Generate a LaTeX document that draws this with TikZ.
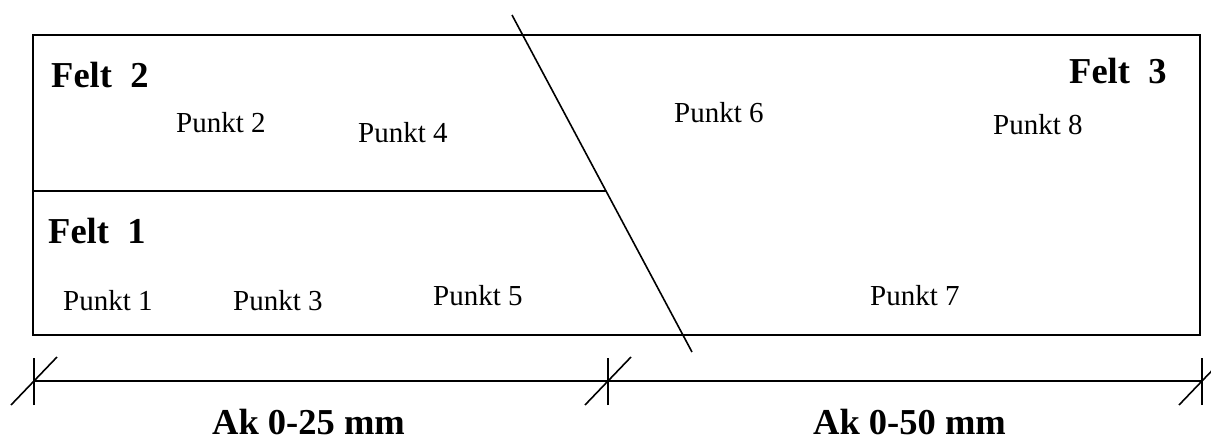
\documentclass[tikz,border=0pt]{standalone}
\usepackage{fontspec}
\setmainfont{Liberation Serif}
\tikzset{
  frame/.style={line width=2.2pt},
  thin/.style={line width=1.6pt},
  felt/.style={anchor=base west,inner sep=0pt,font=\fontsize{36.5}{40}\selectfont\bfseries},
  punkt/.style={anchor=base west,inner sep=0pt,font=\fontsize{29}{32}\selectfont},
}
\begin{document}
\begin{tikzpicture}[x=1pt,y=-1pt]
\useasboundingbox (0,0) rectangle (1211,442);
\begin{scope}
\clip (0,0) rectangle (1211,442);
% frame
\draw[frame] (33,35) rectangle (1200,335);
% split lines
\coordinate (mL) at (33,191);
\coordinate (mR) at (606,191);
\draw[thin] (mL) -- (mR);
\coordinate (dT) at (512,15);
\coordinate (dB) at (692,352);
\draw[thin] (dT) -- (dB);
% dimension line
\coordinate (t1) at (34,381);
\coordinate (t2) at (608,381);
\coordinate (t3) at (1202,381);
\draw[thin] (t1) -- (t3);
\foreach \t in {t1,t2,t3}{
  \draw[thin] ([yshift=-24pt]\t) -- ([yshift=23pt]\t);
  \draw[thin] ([xshift=-23pt,yshift=-24pt]\t) -- ([xshift=23pt,yshift=24pt]\t);
}
\end{scope}
% labels
\node[felt] (f2) at (51,87) {Felt\ \ 2};
\node[felt] (f1) at (48,243) {Felt\ \ 1};
\node[felt] (f3) at (1069,83) {Felt\ \ 3};
\node[punkt] (p2) at (176,132) {Punkt 2};
\node[punkt] (p4) at (358,142) {Punkt 4};
\node[punkt] (p6) at (674,122) {Punkt 6};
\node[punkt] (p8) at (993,134) {Punkt 8};
\node[punkt] (p1) at (63,310) {Punkt 1};
\node[punkt] (p3) at (233,310) {Punkt 3};
\node[punkt] (p5) at (433,305) {Punkt 5};
\node[punkt] (p7) at (870,305) {Punkt 7};
\node[felt] (ak1) at (212,434) {Ak 0-25 mm};
\node[felt] (ak2) at (813,434) {Ak 0-50 mm};
\end{tikzpicture}
\end{document}
